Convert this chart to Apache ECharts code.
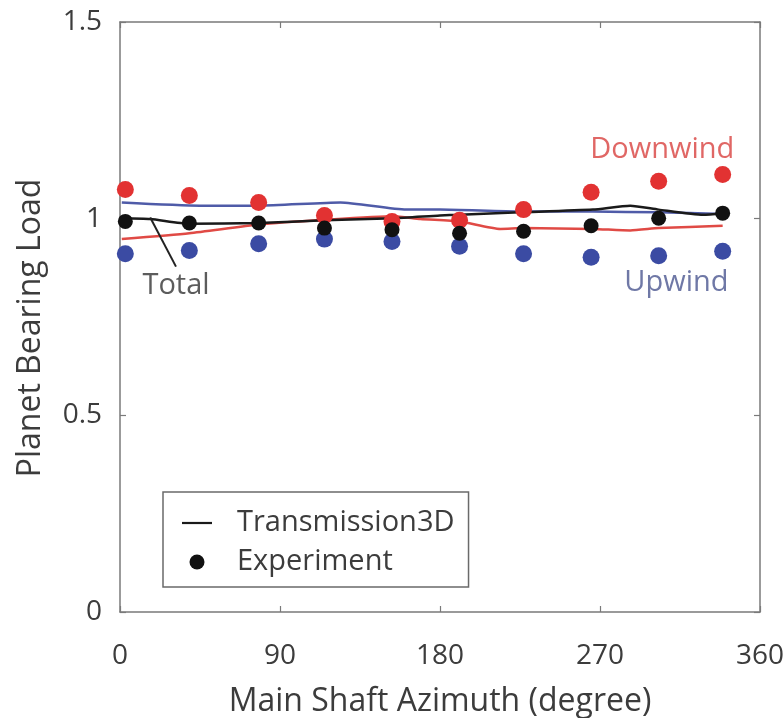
<!DOCTYPE html>
<html>
<head>
<meta charset="utf-8">
<script src="https://cdn.jsdelivr.net/npm/echarts@6/dist/echarts.min.js"></script>
<style>
  html, body { margin: 0; padding: 0; background: #fff; }
  #chart { width: 784px; height: 718px; }
</style>
</head>
<body>
<div id="chart"></div>
<script>
// experiment points (azimuth in degree)
const expAzimuth = [3, 39, 78, 115, 153, 191, 227, 265, 303, 339]
const expDownwind = [1.074, 1.059, 1.041, 1.008, 0.993, 0.996, 1.023, 1.067, 1.095, 1.112]
const expTotal = [0.993, 0.989, 0.989, 0.976, 0.972, 0.963, 0.968, 0.982, 1.001, 1.014]
const expUpwind = [0.911, 0.919, 0.936, 0.948, 0.942, 0.930, 0.911, 0.902, 0.906, 0.917]

// Transmission3D curves
const simUpwind = [[1, 1.041], [45, 1.033], [78, 1.033], [124, 1.041], [161, 1.023], [180, 1.023], [225, 1.018], [266, 1.018], [303, 1.016], [339, 1.012]]
const simTotal = [[1, 1.001], [17, 0.999], [39, 0.987], [78, 0.989], [115, 0.996], [154, 1.001], [180, 1.008], [191, 1.010], [225, 1.016], [266, 1.023], [287, 1.033], [303, 1.023], [328, 1.010], [339, 1.014]]
const simDownwind = [[1, 0.948], [39, 0.963], [78, 0.985], [115, 0.997], [154, 1.006], [169, 0.999], [191, 0.993], [214, 0.974], [227, 0.976], [266, 0.974], [287, 0.970], [303, 0.976], [339, 0.982]]

// text labels in data coords
const notes = [
  { name: 'Downwind', value: [305, 1.176], color: '#d8413e' },
  { name: 'Upwind', value: [313, 0.837], color: '#4b5690' },
  { name: 'Total', value: [31.5, 0.83], color: '#333333' }
]
const totalPointer = [[17, 1.003], [31.5, 0.878]]

const font = 'Open Sans'
const txt = '#3c3c3c'

let chart = echarts.init(document.getElementById('chart'))

const zip = (xs, ys) => xs.map((x, i) => [x, ys[i]])

const axisCommon = {
  axisLine: { show: true, onZero: false, lineStyle: { color: '#7a7a7a', width: 1.5 } },
  axisTick: { show: true, inside: true, length: 6, lineStyle: { color: '#7a7a7a', width: 1.2 } },
  splitLine: { show: false }
}

let option = {
  backgroundColor: '#fff',
  animation: false,
  grid: { left: 120, right: 24, top: 22, bottom: 106, containLabel: false, outerBoundsMode: 'none' },
  legend: {
    left: 163,
    top: 492,
    orient: 'vertical',
    data: [
      { name: 'Transmission3D', icon: 'path://M0,0 H30 V2.2 H0 Z' },
      { name: 'Experiment' }
    ],
    itemWidth: 30,
    itemHeight: 15,
    itemGap: 9,
    padding: [16, 14, 10, 19],
    borderColor: '#6a6a6a',
    borderWidth: 1.5,
    borderRadius: 0,
    textStyle: { fontFamily: font, fontSize: 29, color: txt, lineHeight: 30, padding: [0, 0, 0, 20] }
  },
  xAxis: [{
    type: 'value',
    min: 0,
    max: 360,
    interval: 90,
    name: 'Main Shaft Azimuth (degree)',
    nameLocation: 'middle',
    nameGap: 74,
    nameTextStyle: { fontFamily: font, fontSize: 32, color: txt },
    axisLabel: { fontFamily: font, fontSize: 28, color: txt, margin: 30 },
    ...axisCommon
  }, {
    type: 'value',
    position: 'top',
    min: 0,
    max: 360,
    interval: 90,
    axisLabel: { show: false },
    ...axisCommon
  }],
  yAxis: [{
    type: 'value',
    min: 0,
    max: 1.5,
    interval: 0.5,
    name: 'Planet Bearing Load',
    nameLocation: 'middle',
    nameGap: 73,
    nameTextStyle: { fontFamily: font, fontSize: 32, color: txt, padding: [0, 22, 0, 0] },
    axisLabel: { fontFamily: font, fontSize: 28, color: txt, margin: 18 },
    ...axisCommon
  }, {
    type: 'value',
    position: 'right',
    min: 0,
    max: 1.5,
    interval: 0.5,
    axisLabel: { show: false },
    ...axisCommon
  }],
  series: [
    {
      name: 'sim upwind',
      type: 'line',
      data: simUpwind,
      showSymbol: false,
      smooth: 0.2,
      lineStyle: { color: '#4f5ba8', width: 2.5 },
      z: 2
    },
    {
      name: 'sim downwind',
      type: 'line',
      data: simDownwind,
      showSymbol: false,
      smooth: 0.2,
      lineStyle: { color: '#e04a45', width: 2.5 },
      z: 2
    },
    {
      name: 'Transmission3D',
      type: 'line',
      data: simTotal,
      symbol: 'none',
      smooth: 0.2,
      itemStyle: { color: '#1a1a1a' },
      lineStyle: { color: '#1a1a1a', width: 2.5 },
      z: 3
    },
    {
      name: 'exp downwind',
      type: 'scatter',
      data: zip(expAzimuth, expDownwind),
      symbolSize: 17,
      itemStyle: { color: '#e23232', opacity: 1 },
      z: 4
    },
    {
      name: 'exp upwind',
      type: 'scatter',
      data: zip(expAzimuth, expUpwind),
      symbolSize: 17,
      itemStyle: { color: '#3b4ba3', opacity: 1 },
      z: 4
    },
    {
      name: 'Experiment',
      type: 'scatter',
      data: zip(expAzimuth, expTotal),
      symbolSize: 15,
      itemStyle: { color: '#111111', opacity: 1 },
      z: 5
    },
    {
      name: 'pointer',
      type: 'line',
      data: totalPointer,
      symbol: 'none',
      silent: true,
      lineStyle: { color: '#222', width: 2 },
      z: 6
    },
    {
      name: 'notes',
      type: 'scatter',
      symbolSize: 0,
      silent: true,
      data: notes.map(n => ({
        name: n.name,
        value: n.value,
        label: { color: n.color }
      })),
      label: {
        show: true,
        position: 'inside',
        formatter: '{b}',
        fontFamily: font,
        fontSize: 29
      },
      z: 7
    }
  ]
}

chart.setOption(option)
window.addEventListener('resize', () => {
  chart.resize()
})
</script>
</body>
</html>
